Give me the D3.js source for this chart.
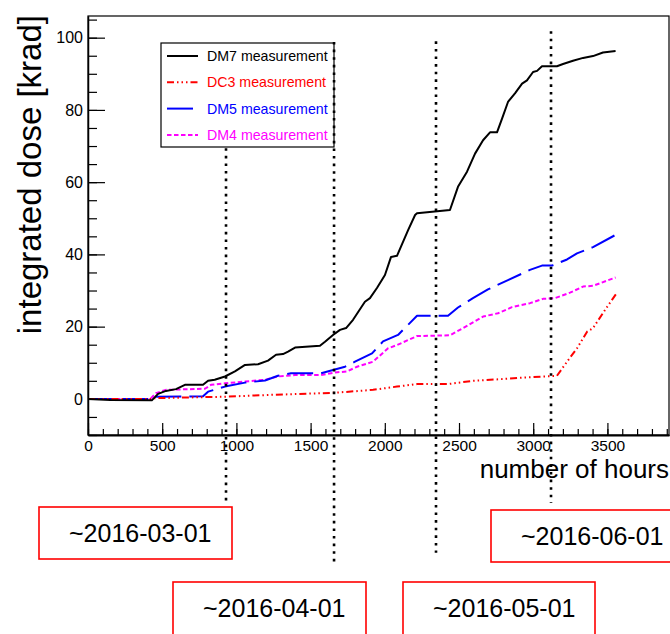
<!DOCTYPE html>
<html>
<head>
<meta charset="utf-8">
<script src="https://cdn.jsdelivr.net/npm/d3@7"></script>
<style>
  body { margin: 0; background: #fff; }
  svg { font-family: "Liberation Sans", Arial, sans-serif; }
</style>
</head>
<body>
<div class="chart"></div>
<script>
// integrated dose vs hours

const hoursDM7 = [0, 150, 430, 472, 525, 593, 653, 775, 809, 854, 923, 990, 1058, 1146, 1213, 1267, 1314, 1348, 1395, 1563,
    1597, 1651, 1698, 1739, 1786, 1866, 1900, 1947, 2001, 2042, 2082, 2157, 2204, 2217, 2439, 2493, 2554, 2608, 2662, 2709,
    2756, 2790, 2830, 2877, 2925, 2958, 2999, 3026, 3059, 3160, 3201, 3268, 3336, 3403, 3470, 3555]
const doseDM7 = [0, -0.3, -0.4, 1.4, 2.2, 2.7, 3.9, 3.9, 5.0, 5.3, 6.2, 7.6, 9.4, 9.6, 10.6, 12.2, 12.4, 13.1, 14.2, 14.7,
    15.8, 17.7, 19.1, 19.6, 21.9, 26.9, 27.9, 30.7, 34.3, 39.3, 39.6, 46.7, 50.9, 51.4, 52.3, 58.7, 62.9, 67.9, 71.6, 73.8,
    73.8, 77.6, 82.2, 84.6, 87.3, 88.2, 90.5, 90.8, 92.1, 92.1, 92.7, 93.6, 94.4, 94.9, 95.9, 96.3]

const hoursDC3 = [0, 430, 451, 923, 1226, 1665, 1921, 2082, 2217, 2426, 2594, 2796, 2978, 3160, 3228, 3295, 3363, 3403, 3497, 3558]
const doseDC3 = [0, 0, 0.2, 0.6, 1.1, 1.7, 2.5, 3.4, 4.1, 4.1, 5.0, 5.5, 6.0, 6.4, 10.3, 14.0, 18.6, 19.6, 25.4, 29.0]

const hoursDM5 = [0, 430, 451, 775, 809, 923, 1058, 1193, 1280, 1368, 1570, 1651, 1732, 1799, 1914, 1988, 2089, 2217, 2426, 2493,
    2594, 2695, 2830, 2978, 3059, 3127, 3228, 3295, 3403, 3555]
const doseDM5 = [0, 0, 0.6, 0.7, 2.0, 3.4, 4.5, 5.1, 6.4, 7.1, 7.1, 8.0, 8.9, 10.3, 12.6, 15.9, 17.7, 23.0, 23.0, 25.3,
    27.9, 30.3, 32.9, 35.7, 36.9, 36.9, 38.6, 40.3, 42.0, 45.4]

const hoursDM4 = [0, 420, 458, 525, 788, 829, 923, 1058, 1193, 1280, 1395, 1570, 1665, 1745, 1813, 1921, 2022, 2082, 2217, 2439,
    2527, 2662, 2763, 2857, 2978, 3066, 3147, 3248, 3336, 3403, 3555]
const doseDM4 = [0, 0, 1.6, 2.5, 2.8, 3.9, 4.3, 4.8, 5.3, 6.2, 6.6, 6.6, 7.3, 7.6, 8.9, 10.3, 14.0, 14.9, 17.4, 17.6,
    19.6, 22.8, 23.7, 25.4, 26.5, 27.7, 27.9, 29.4, 31.1, 31.3, 33.6]

const seriesNames = ["DM7 measurement", "DC3 measurement", "DM5 measurement", "DM4 measurement"]
const seriesColors = ["#000", "#ff0000", "#0000ff", "#ff00ff"]

// month markers (hours) and how far the dotted line runs, in dose units
const markHours = [930, 1658, 2345, 3120]
const markTop = [69.4, 98.8, 99, 101.8]
const markBottom = [-28.8, -45.4, -42.6, -28.8]
const markLabels = ["~2016-03-01", "~2016-04-01", "~2016-05-01", "~2016-06-01"]

const xMajor = d3.range(0, 3901, 500)
const xMinor = d3.range(0, 3901, 100)
const yMajor = d3.range(0, 101, 20)
const yMinor = d3.range(-10, 106, 5)

const width = 670
const height = 634
const plot = { left: 88, right: 669, top: 16, bottom: 435 }

const x = d3.scaleLinear().domain([0, 3915]).range([plot.left, plot.right])
const y = d3.scaleLinear().domain([-10, 106]).range([plot.bottom, plot.top])

const svg = d3.select(".chart").append("svg")
    .attr("width", width)
    .attr("height", height)

// frame
svg.append("rect")
    .attr("x", plot.left).attr("y", plot.top)
    .attr("width", plot.right - plot.left).attr("height", plot.bottom - plot.top)
    .attr("fill", "none").attr("stroke", "#000").attr("stroke-width", 1.2)

// x axis: ticks pointing up
svg.append("g")
    .attr("transform", `translate(0,${plot.bottom})`)
    .call(d3.axisBottom(x).tickValues(xMinor).tickSize(-6).tickSizeOuter(0).tickFormat(""))
svg.append("g")
    .attr("transform", `translate(0,${plot.bottom})`)
    .call(d3.axisBottom(x).tickValues(xMajor).tickSize(-12).tickSizeOuter(0).tickPadding(5)
        .tickFormat(d3.format("d")))
    .call(g => g.selectAll("text").attr("font-size", 15.5).attr("fill", "#000"))
    .call(g => g.select(".domain").attr("stroke-width", 2))

// y axis: ticks pointing right
svg.append("g")
    .attr("transform", `translate(${plot.left},0)`)
    .call(d3.axisLeft(y).tickValues(yMinor).tickSize(-9).tickSizeOuter(0).tickFormat(""))
svg.append("g")
    .attr("transform", `translate(${plot.left},0)`)
    .call(d3.axisLeft(y).tickValues(yMajor).tickSize(-17).tickSizeOuter(0).tickPadding(5)
        .tickFormat(d3.format("d")))
    .call(g => g.selectAll("text").attr("font-size", 16).attr("fill", "#000"))
    .call(g => g.select(".domain").attr("stroke-width", 1.5))

svg.selectAll("g").attr("font-family", null)
svg.selectAll(".tick line").attr("stroke-width", 1.2)

// axis titles
svg.append("text")
    .attr("transform", "translate(41,15) rotate(-90)")
    .attr("text-anchor", "end")
    .attr("font-size", 33)
    .text("integrated dose [krad]")

svg.append("text")
    .attr("x", 669).attr("y", 478)
    .attr("text-anchor", "end")
    .attr("font-size", 26)
    .text("number of hours")

// series
const dashes = [null, "7,3,1.5,3,1.5,3,1.5,3", "26,8", "4.5,2.5"]
const allHours = [hoursDM7, hoursDC3, hoursDM5, hoursDM4]
const allDose = [doseDM7, doseDC3, doseDM5, doseDM4]

const line = d3.line()
    .x(d => x(d[0]))
    .y(d => y(d[1]))

const series = seriesNames.map((name, i) => ({
    name: name,
    color: seriesColors[i],
    dash: dashes[i],
    points: allHours[i].map((h, j) => [h, allDose[i][j]])
}))

// draw bottom-up so black ends on top
svg.append("g")
    .selectAll("path")
    .data(series.slice().reverse())
    .join("path")
    .attr("d", d => line(d.points))
    .attr("fill", "none")
    .attr("stroke", d => d.color)
    .attr("stroke-width", 2)
    .attr("stroke-dasharray", d => d.dash)
    .attr("stroke-linejoin", "round")

// legend
const legend = svg.append("g")
legend.append("rect")
    .attr("x", 161).attr("y", 43)
    .attr("width", 173).attr("height", 104)
    .attr("fill", "#fff").attr("stroke", "#000").attr("stroke-width", 1.2)

const entry = legend.selectAll("g")
    .data(series)
    .join("g")
    .attr("transform", (d, i) => `translate(0,${56 + i * 26.3})`)

entry.append("line")
    .attr("x1", 167).attr("x2", 198)
    .attr("stroke", d => d.color)
    .attr("stroke-width", 2)
    .attr("stroke-dasharray", d => d.dash)

entry.append("text")
    .attr("x", 207).attr("y", 5)
    .attr("font-size", 14.2)
    .attr("fill", d => d.color)
    .text(d => d.name)

// month markers
svg.append("g")
    .selectAll("line")
    .data(markHours)
    .join("line")
    .attr("x1", d => x(d)).attr("x2", d => x(d))
    .attr("y1", (d, i) => y(markTop[i]))
    .attr("y2", (d, i) => y(markBottom[i]))
    .attr("stroke", "#000")
    .attr("stroke-width", 2.6)
    .attr("stroke-dasharray", "2.6,5")

const boxes = [
    { x: 39, y: 507, w: 193, h: 52 },
    { x: 173, y: 582, w: 193, h: 60 },
    { x: 403, y: 582, w: 192, h: 60 },
    { x: 491, y: 510, w: 186, h: 52 }
]

const box = svg.append("g")
    .selectAll("g")
    .data(markLabels)
    .join("g")
    .attr("transform", (d, i) => `translate(${boxes[i].x},${boxes[i].y})`)

box.append("rect")
    .attr("width", (d, i) => boxes[i].w)
    .attr("height", (d, i) => boxes[i].h)
    .attr("fill", "#fff")
    .attr("stroke", "#f00")
    .attr("stroke-width", 1.6)

box.append("text")
    .attr("x", 30).attr("y", 35)
    .attr("font-size", 25)
    .text(d => d)
</script>
</body>
</html>
